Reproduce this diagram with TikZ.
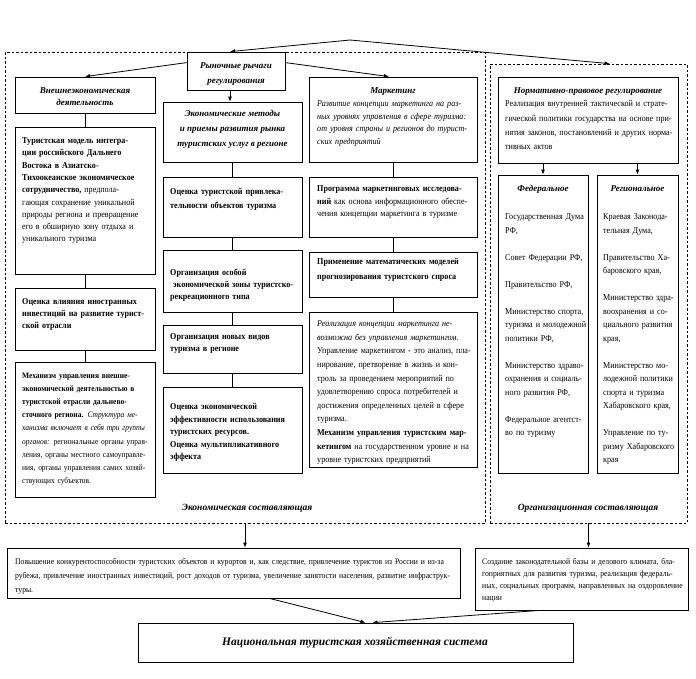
\documentclass[tikz,border=0pt]{standalone}
\usepackage{fontspec}
\setmainfont{Liberation Serif}[FakeStretch=0.9]
\newfontfamily\tfont{Liberation Serif}
\usetikzlibrary{arrows.meta,fit}
\newcommand\J[1]{\noindent\hbox to \hsize{#1}}
\newcommand\K[1]{\noindent\hbox{#1}}
\begin{document}
\begin{tikzpicture}[x=1pt,y=-1pt,
  box/.style={draw=black, line width=0.8pt, inner sep=0pt},
  dbox/.style={draw=black, line width=0.7pt, dash pattern=on 2.5pt off 2pt, inner sep=0pt},
  txt/.style={inner sep=0pt, anchor=north west, align=left},
  ttl/.style={inner sep=0pt, anchor=north, align=center, font=\tfont\fontsize{9}{11.5}\selectfont\bfseries\itshape},
  arr/.style={-{Latex[length=5pt,width=4pt]}, line width=0.8pt},
  ln/.style={line width=0.8pt}]
\useasboundingbox (0,0) rectangle (696,678);
% regions
\node[dbox, fit={(5,52) (485,523)}] (dl) {};
\node[dbox, fit={(490,64) (687,523)}] (dr) {};
\coordinate (apex) at (350,40);
% boxes
\node[box, fit={(187,52) (285,90)}] (ryn) {};
\node[box, fit={(15,77) (155,113)}] (vnesh) {};
\node[box, fit={(15,127) (155,274)}] (tur) {};
\node[box, fit={(15,288) (155,350)}] (ocvl) {};
\node[box, fit={(15,362) (155,497)}] (mech) {};
\node[box, fit={(163,102) (302,162)}] (em) {};
\node[box, fit={(163,177) (302,237)}] (ot) {};
\node[box, fit={(163,250) (302,312)}] (oo) {};
\node[box, fit={(163,325) (302,373)}] (onv) {};
\node[box, fit={(163,387) (302,473)}] (oe) {};
\node[box, fit={(309,77) (477,162)}] (mk) {};
\node[box, fit={(309,177) (477,237)}] (pm) {};
\node[box, fit={(309,252) (477,297)}] (pr) {};
\node[box, fit={(309,312) (477,467)}] (re) {};
\node[box, fit={(498,77) (678,163)}] (nr) {};
\node[box, fit={(498,175) (588,473)}] (fed) {};
\node[box, fit={(597,175) (678,473)}] (reg) {};
\node[box, fit={(7,548) (460,598)}] (pov) {};
\node[box, fit={(475,548) (688,610)}] (soz) {};
\node[box, fit={(138,623) (573,662)}] (nat) {};
% connectors
\draw[arr] (apex) -- ([xshift=-6pt]ryn.north);
\draw[arr] (apex) -- ([xshift=120pt]dr.north west);
\draw[arr] ([yshift=-11pt]ryn.north west) -- (vnesh.north);
\draw[arr] ([yshift=-11pt]ryn.north east) -- ([xshift=-4pt]mk.north);
\draw[arr] ([xshift=-6pt]ryn.south) -- ([xshift=-6pt]ryn.south |- em.north);
\draw[ln] (vnesh.south) -- (tur.north);
\draw[ln] (tur.south) -- (ocvl.north);
\draw[ln] (ocvl.south) -- (mech.north);
\draw[ln] (em.south) -- (ot.north);
\draw[ln] (ot.south) -- (oo.north);
\draw[ln] (oo.south) -- (onv.north);
\draw[ln] (onv.south) -- (oe.north);
\draw[ln] (mk.south) -- (pm.north);
\draw[ln] (pm.south) -- (pr.north);
\draw[ln] (pr.south) -- (re.north);
\draw[arr] (nr.south -| fed.north) -- (fed.north);
\draw[arr] (nr.south -| reg.north) -- (reg.north);
\draw[arr] (dl.south) -- (dl.south |- pov.north);
\draw[arr] (dr.south) -- (dr.south |- soz.north);
\draw[arr] ([xshift=36pt]pov.south) -- ([xshift=10pt]nat.north);
\draw[arr] ([xshift=65pt]soz.south west) -- ([xshift=17pt]nat.north);
% texts
\node[ttl, font=\tfont\fontsize{9}{15}\selectfont\bfseries\itshape] (ryn-t) at (236,62) {Рыночные рычаги\\регулирования};
\node[ttl] (vnesh-t) at (85,87.5) {Внешнеэкономическая\\деятельность};
\node[txt, text width=125pt, font=\fontsize{9}{12.3}\selectfont] (tur-t) at (22,137.5) {%
\J{\textbf{Туристская модель интегра-}}\\
\J{\textbf{ции российского Дальнего}}\\
\J{\textbf{Востока в Азиатско-}}\\
\J{\textbf{Тихоокеанское экономическое}}\\
\J{\textbf{сотрудничество,} предпола-}\\
\J{гающая сохранение уникальной}\\
\J{природы региона и превращение}\\
\J{его в обширную зону отдыха и}\\
уникального туризма};
\node[txt, text width=125pt, font=\fontsize{9}{12}\selectfont\bfseries] (ocvl-t) at (22,298.5) {%
\J{Оценка влияния иностранных}\\
\J{инвестиций на развитие турист-}\\
ской отрасли};
\node[txt, text width=125pt, font=\fontsize{8.3}{13.2}\selectfont] (mech-t) at (22,372.5) {%
\J{\textbf{Механизм управления внешне-}}\\
\J{\textbf{экономической деятельностью в}}\\
\J{\textbf{туристской отрасли дальнево-}}\\
\J{\textbf{сточного региона.} \textit{Структура ме-}}\\
\J{\textit{ханизма включает в себя три группы}}\\
\J{\textit{органов:} региональные органы управ-}\\
\J{ления, органы местного самоуправле-}\\
\J{ния, органы управления самих хозяй-}\\
ствующих субъектов.};
\node[ttl, font=\tfont\fontsize{9}{15}\selectfont\bfseries\itshape] (em-t) at (232.5,110.5) {Экономические методы\\и приемы развития рынка\\туристских услуг в регионе};
\node[txt, text width=124pt, font=\fontsize{9}{14}\selectfont\bfseries] (ot-t) at (170,188.5) {%
\J{Оценка туристской привлека-}\\
тельности объектов туризма};
\node[txt, text width=124pt, font=\fontsize{9}{12}\selectfont\bfseries] (oo-t) at (170,268.5) {%
\K{Организация особой}\\
\K{\ экономической зоны туристско-}\\
\K{рекреационного типа}};
\node[txt, text width=124pt, font=\fontsize{9}{12}\selectfont\bfseries] (onv-t) at (170,333.5) {%
\K{Организация новых видов}\\
\K{туризма в регионе}};
\node[txt, text width=124pt, font=\fontsize{9}{12.5}\selectfont\bfseries] (oe-t) at (170,403.5) {%
\K{Оценка экономической}\\
\J{эффективности использования}\\
\K{туристских ресурсов.}\\
\J{Оценка мультипликативного}\\
\K{эффекта}};
\node[ttl] (mk-h) at (393,87.5) {Маркетинг};
\node[txt, text width=154pt, font=\fontsize{9}{12.7}\selectfont\itshape] (mk-t) at (317,100.5) {%
\J{Развитие концепции маркетинга на раз-}\\
\J{ных уровнях управления в сфере туризма:}\\
\J{от уровня страны и регионов до турист-}\\
\K{ских предприятий}};
\node[txt, text width=154pt, font=\fontsize{9}{12.5}\selectfont] (pm-t) at (317,185.5) {%
\J{\textbf{Программа маркетинговых исследова-}}\\
\J{\textbf{ний} как основа информационного обеспе-}\\
\K{чения концепции маркетинга в туризме}};
\node[txt, text width=154pt, font=\fontsize{9}{14.5}\selectfont\bfseries] (pr-t) at (317,258.5) {%
\J{Применение математических моделей}\\
\K{прогнозирования туристского спроса}};
\node[txt, text width=154pt, font=\fontsize{9}{13.6}\selectfont] (re-t) at (317,320.5) {%
\K{\textit{Реализация концепции маркетинга не-}}\\
\K{\textit{возможна без управления маркетингом.}}\\
\K{Управление маркетингом - это анализ, пла-}\\
\K{нирование, претворение в жизнь и кон-}\\
\K{троль за проведением мероприятий по}\\
\K{удовлетворению спроса потребителей и}\\
\K{достижения определенных целей в сфере}\\
\K{туризма.}\\
\J{\textbf{Механизм управления туристским мар-}}\\
\K{\textbf{кетингом} на государственном уровне и на}\\
\K{уровне туристских предприятий}};
\node[ttl] (nr-h) at (588,87.5) {Нормативно-правовое регулирование};
\node[txt, text width=163pt, font=\fontsize{9}{14.3}\selectfont] (nr-t) at (505,100.5) {%
\J{Реализация внутренней тактической и страте-}\\
\J{гической политики государства на основе при-}\\
\J{нятия законов, постановлений и других норма-}\\
\K{тивных актов}};
\node[ttl] (fed-h) at (543,185.5) {Федеральное};
\node[ttl] (reg-h) at (637.5,185.5) {Региональное};
\node[txt, text width=80pt, font=\fontsize{9}{13.5}\selectfont] (fed-t) at (505,213.5) {%
\K{Государственная Дума}\\ \K{РФ,}\\[13.5pt]
\K{Совет Федерации РФ,}\\[13.5pt]
\K{Правительство РФ,}\\[13.5pt]
\K{Министерство спорта,}\\ \K{туризма и молодежной}\\ \K{политики РФ,}\\[13.5pt]
\K{Министерство здраво-}\\ \K{охранения и социаль-}\\ \K{ного развития РФ,}\\[13.5pt]
\K{Федеральное агентст-}\\ \K{во по туризму}};
\node[txt, text width=72pt, font=\fontsize{9}{13.5}\selectfont] (reg-t) at (603,213.5) {%
\K{Краевая Законода-}\\ \K{тельная Дума,}\\[13.5pt]
\K{Правительство Ха-}\\ \K{баровского края,}\\[13.5pt]
\K{Министерство здра-}\\ \K{воохранения и со-}\\ \K{циального развития}\\ \K{края,}\\[13.5pt]
\K{Министерство мо-}\\ \K{лодежной политики}\\ \K{спорта и туризма}\\ \K{Хабаровского края,}\\[13.5pt]
\K{Управление по ту-}\\ \K{ризму Хабаровского}\\ \K{края}};
\node[inner sep=0pt, font=\tfont\fontsize{9.5}{11}\selectfont\bfseries\itshape] (ekl) at (247,508) {Экономическая составляющая};
\node[inner sep=0pt, font=\tfont\fontsize{9.5}{11}\selectfont\bfseries\itshape] (orgl) at (588,508) {Организационная составляющая};
\node[txt, text width=440pt, font=\fontsize{8.5}{14}\selectfont] (pov-t) at (15,558) {%
\J{Повышение конкурентоспособности туристских объектов и курортов и, как следствие, привлечение туристов из России и из-за}\\
\J{рубежа, привлечение иностранных инвестиций, рост доходов от туризма, увеличение занятости населения, развитие инфраструк-}\\
\K{туры.}};
\node[txt, text width=196pt, font=\fontsize{8.5}{12}\selectfont] (soz-t) at (482,558) {%
\J{Создание законодательной базы и делового климата, бла-}\\
\J{гоприятных для развития туризма, реализация федераль-}\\
\J{ных, социальных программ, направленных на оздоровление}\\
\K{нации}};
\node[inner sep=0pt, font=\tfont\fontsize{11.5}{13}\selectfont\bfseries\itshape] (nat-t) at (355,642.5) {Национальная туристская хозяйственная система};
\end{tikzpicture}
\end{document}
